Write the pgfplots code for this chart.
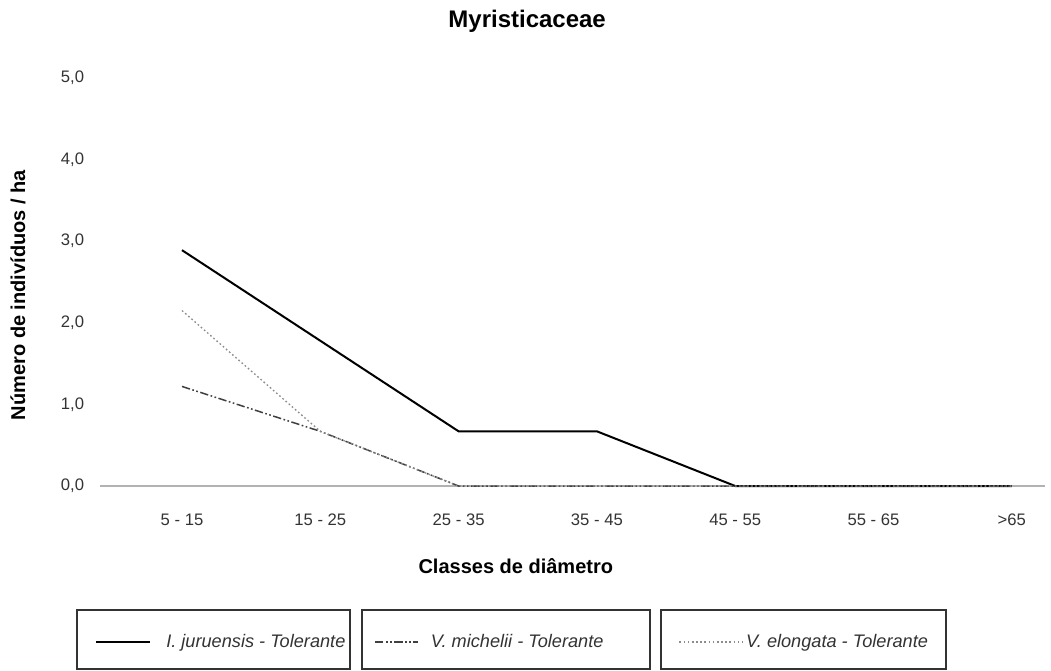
\documentclass[border=0pt]{standalone}
\usepackage{fontspec}
\setmainfont{Liberation Sans}
\usepackage{pgfplots}
\pgfplotsset{compat=1.18}

\definecolor{txt}{HTML}{333333}
\definecolor{michelii}{HTML}{404040}
\definecolor{elongata}{HTML}{8C8C8C}

% legend samples of different lengths, as in the reference
\pgfplotsset{
  leg/.style={legend image code/.code={\draw[##1] (0pt,0pt) -- (#1,0pt);}},
}

\begin{document}
\begin{tikzpicture}
% 1 px of the reference = 0.6pt; axis box lower left at (0,0)
\path[use as bounding box] (-60pt,-110.4pt) rectangle (570.6pt,291.6pt);
\begin{axis}[
    scale only axis,
    width=567pt, height=244.8pt,
    xmin=-0.593, xmax=6.24,
    ymin=0, ymax=5,
    xtick={0,1,2,3,4,5,6},
    xticklabels={5 - 15,15 - 25,25 - 35,35 - 45,45 - 55,55 - 65,>65},
    ytick={0,1,2,3,4,5},
    /pgf/number format/fixed,
    /pgf/number format/fixed zerofill,
    /pgf/number format/precision=1,
    /pgf/number format/use comma,
    /pgf/number format/assume math mode=true,
    ticklabel style={font=\fontsize{10}{12}\selectfont, text=txt},
    xticklabel style={yshift=-13pt},
    yticklabel style={xshift=-6pt},
    major tick length=0pt,
    axis x line*=bottom, axis y line*=left,
    x axis line style={draw=gray!60, line width=1.2pt, -},
    y axis line style={draw=none},
    clip=false,
    title={Myristicaceae},
    title style={font=\bfseries\fontsize{14.4}{16}\selectfont, at={(axis description cs:0.452,1.115)}, anchor=center},
    xlabel={Classes de diâmetro},
    xlabel style={font=\bfseries\fontsize{12}{14}\selectfont, at={(axis description cs:0.440,-0.196)}, anchor=center},
    ylabel={Número de indivíduos / ha},
    ylabel style={font=\bfseries\fontsize{12}{14}\selectfont, at={(axis description cs:-0.0868,0.468)}, anchor=center},
    legend columns=3,
    legend style={draw=none, fill=none, at={(axis description cs:-0.0106,-0.382)}, anchor=west,
        nodes={inner sep=0pt, font=\itshape\fontsize{10.9}{13}\selectfont, text=txt},
        column sep=0pt},
]
\addplot[black, line width=1.2pt, leg=32.4pt]
  coordinates {(0,2.89) (1,1.78) (2,0.67) (3,0.67) (4,0) (5,0) (6,0)};
\addlegendentry{\makebox[133.8pt][l]{\hspace*{9pt}I. juruensis - Tolerante}}
\addplot[michelii, line width=0.9pt, dash pattern=on 5pt off 1.5pt on 1pt off 1.5pt on 1pt off 1.5pt, leg=25.8pt]
  coordinates {(0,1.22) (1,0.67) (2,0) (3,0) (4,0) (5,0) (6,0)};
\addlegendentry{\makebox[156pt][l]{\hspace*{7.2pt}V. michelii -  Tolerante}}
\addplot[elongata, line width=0.8pt, dash pattern=on 1pt off 1.5pt, leg=38.4pt]
  coordinates {(0,2.15) (1,0.67) (2,0) (3,0) (4,0) (5,0) (6,0)};
\addlegendentry{\hspace*{1.2pt}V. elongata -  Tolerante}
\end{axis}
% legend frames
\draw[txt, line width=0.7pt] (-13.8pt,-74.4pt) rectangle (150pt,-109.8pt);
\draw[txt, line width=0.7pt] (157.2pt,-74.4pt) rectangle (330pt,-109.8pt);
\draw[txt, line width=0.7pt] (336.6pt,-74.4pt) rectangle (507.6pt,-109.8pt);
\end{tikzpicture}
\end{document}
